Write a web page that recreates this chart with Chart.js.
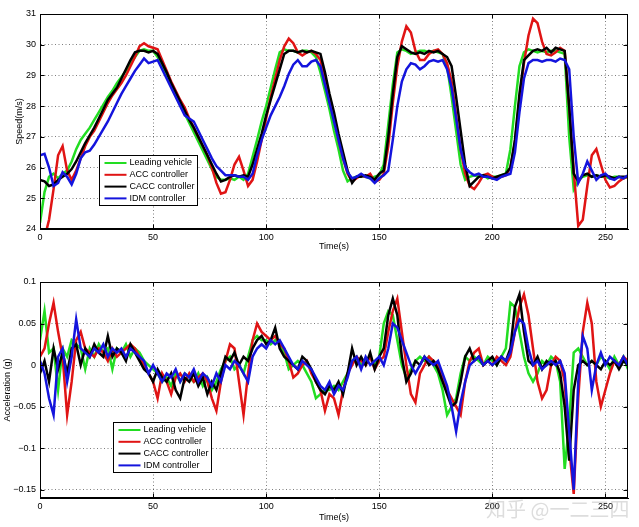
<!DOCTYPE html>
<html>
<head>
<meta charset="utf-8">
<script src="https://cdn.jsdelivr.net/npm/chart.js@4/dist/chart.umd.min.js"></script>
<style>
  body { margin: 0; background: #fff; width: 639px; height: 527px; position: relative; overflow: hidden; }
  canvas { display: block; }
  #mark { position: absolute; left: 486px; top: 494px; font: 20px "Noto Sans CJK SC", sans-serif; color: rgba(170, 170, 170, 0.4); white-space: nowrap; }
</style>
</head>
<body>
<canvas id="speedChart" width="639" height="262"></canvas>
<canvas id="accChart" width="639" height="265"></canvas>
<div id="mark">知乎 @一二三四</div>
<script>
// time axis, one sample every 2 s
const timeSec = [
  0, 2, 4, 6, 8, 10, 12, 14, 16, 18,
  20, 22, 24, 26, 28, 30, 32, 34, 36, 38,
  40, 42, 44, 46, 48, 50, 52, 54, 56, 58,
  60, 62, 64, 66, 68, 70, 72, 74, 76, 78,
  80, 82, 84, 86, 88, 90, 92, 94, 96, 98,
  100, 102, 104, 106, 108, 110, 112, 114, 116, 118,
  120, 122, 124, 126, 128, 130, 132, 134, 136, 138,
  140, 142, 144, 146, 148, 150, 152, 154, 156, 158,
  160, 162, 164, 166, 168, 170, 172, 174, 176, 178,
  180, 182, 184, 186, 188, 190, 192, 194, 196, 198,
  200, 202, 204, 206, 208, 210, 212, 214, 216, 218,
  220, 222, 224, 226, 228, 230, 232, 234, 236, 238,
  240, 242, 244, 246, 248, 250, 252, 254, 256, 258,
  260
];

// speed (m/s)
const speedLeading = [
  24.2, 25.2, 25.7, 25.8, 25.65, 25.8, 25.9, 26.2, 26.6, 26.9,
  27.1, 27.3, 27.55, 27.8, 28.05, 28.3, 28.5, 28.75, 28.95, 29.15,
  29.4, 29.6, 29.8, 29.85, 29.8, 29.8, 29.6, 29.3, 29.0, 28.65,
  28.35, 28.05, 27.75, 27.45, 27.15, 26.85, 26.55, 26.25, 25.95, 25.7,
  25.6, 25.6, 25.65, 25.6, 25.7, 25.6, 25.8, 26.35, 26.9, 27.5,
  28.0, 28.6, 29.2, 29.75, 29.85, 29.8, 29.8, 29.75, 29.8, 29.8,
  29.75, 29.6, 29.1, 28.5, 27.9, 27.2, 26.6, 25.9, 25.55, 25.65,
  25.7, 25.75, 25.7, 25.65, 25.7, 25.75, 26.1, 27.4, 28.7, 29.75,
  29.85, 29.8, 29.7, 29.75, 29.8, 29.8, 29.75, 29.8, 29.75, 29.7,
  29.3, 28.3, 27.2, 26.1, 25.6, 25.7, 25.75, 25.7, 25.75, 25.65,
  25.7, 25.7, 25.75, 25.8, 26.6, 28.0, 29.3, 29.75, 29.85, 29.8,
  29.75, 29.8, 29.75, 29.8, 29.8, 29.75, 29.7, 27.0, 25.3, 25.6,
  25.7, 25.75, 25.7, 25.75, 25.7, 25.7, 25.65, 25.7, 25.7, 25.65,
  25.7
];
const speedAcc = [
  23.4, 23.7, 24.3, 25.3, 26.4, 26.7, 25.9, 25.6, 25.9, 26.3,
  26.7, 27.0, 27.2, 27.5, 27.8, 28.1, 28.35, 28.55, 28.75, 29.0,
  29.3, 29.6, 29.95, 30.05, 29.95, 29.9, 29.85, 29.5, 29.15, 28.8,
  28.5, 28.2, 27.95, 27.6, 27.3, 27.0, 26.7, 26.4, 26.0, 25.5,
  25.15, 25.2, 25.6, 26.1, 26.35, 25.9, 25.4, 25.6, 26.2, 26.9,
  27.6, 28.3, 28.9, 29.5, 29.95, 30.2, 30.05, 29.75, 29.65, 29.75,
  29.8, 29.7, 29.5, 28.9, 28.3, 27.6, 26.9, 26.3, 25.8, 25.55,
  25.65, 25.75, 25.7, 25.8, 25.55, 25.6, 25.8, 26.7, 28.1, 29.3,
  30.1, 30.6, 30.4, 29.8, 29.5, 29.5, 29.7, 29.8, 29.85, 29.7,
  29.4, 28.8, 27.7, 26.6, 25.8, 25.4, 25.3, 25.5, 25.75, 25.8,
  25.7, 25.65, 25.7, 25.75, 26.0, 26.8, 28.2, 29.4, 30.3, 30.85,
  30.7, 30.1, 29.7, 29.65, 29.75, 29.9, 29.8, 28.0, 25.9, 24.1,
  24.3, 25.4, 26.4, 26.6, 26.1, 25.6, 25.35, 25.4, 25.55, 25.65,
  25.7
];
const speedCacc = [
  25.6, 25.55, 25.4, 25.45, 25.6, 25.7, 25.8, 25.95, 26.2, 26.5,
  26.8, 27.05, 27.3, 27.6, 27.9, 28.2, 28.4, 28.6, 28.9, 29.2,
  29.5, 29.75, 29.8, 29.8, 29.75, 29.8, 29.7, 29.4, 29.1, 28.75,
  28.45, 28.15, 27.85, 27.55, 27.3, 27.0, 26.7, 26.4, 26.1, 25.8,
  25.55, 25.6, 25.7, 25.75, 25.7, 25.75, 25.7, 26.1, 26.6, 27.1,
  27.7, 28.2, 28.7, 29.2, 29.7, 29.8, 29.8, 29.75, 29.8, 29.75,
  29.8, 29.75, 29.7, 29.1, 28.4, 27.8, 27.1, 26.5, 25.9, 25.5,
  25.7, 25.7, 25.75, 25.7, 25.6, 25.8, 25.9, 27.0, 28.4, 29.6,
  29.95, 29.85, 29.75, 29.7, 29.75, 29.7, 29.8, 29.75, 29.8, 29.7,
  29.6, 29.3, 28.3, 27.2, 26.1, 25.4, 25.55, 25.7, 25.75, 25.7,
  25.65, 25.7, 25.75, 25.8, 26.0, 26.9, 28.4, 29.5, 29.65, 29.8,
  29.85, 29.8, 29.9, 29.75, 29.9, 29.85, 29.8, 28.0, 25.8, 25.55,
  25.75, 25.8, 25.7, 25.75, 25.7, 25.75, 25.7, 25.65, 25.7, 25.7,
  25.7
];
const speedIdm = [
  26.4, 26.45, 26.0, 25.4, 25.5, 25.85, 25.7, 25.45, 25.8, 26.3,
  26.5, 26.55, 26.75, 27.0, 27.25, 27.5, 27.8, 28.1, 28.4, 28.65,
  28.9, 29.15, 29.35, 29.55, 29.4, 29.45, 29.5, 29.2, 28.9, 28.6,
  28.3, 28.0, 27.7, 27.6, 27.5, 27.2, 26.9, 26.6, 26.3, 26.05,
  25.9, 25.75, 25.75, 25.75, 25.7, 25.7, 25.6, 25.8, 26.4, 26.9,
  27.3, 27.7, 28.0, 28.3, 28.65, 29.05, 29.35, 29.5, 29.3, 29.3,
  29.45, 29.5, 29.3, 28.7, 28.1, 27.5, 26.9, 26.3, 25.85, 25.65,
  25.7, 25.8, 25.7, 25.65, 25.5, 25.65, 25.75, 25.9, 26.9, 28.0,
  28.8, 29.2, 29.4, 29.35, 29.2, 29.3, 29.45, 29.5, 29.45, 29.5,
  29.2, 28.6, 27.6, 26.6, 26.0, 25.85, 25.75, 25.8, 25.7, 25.7,
  25.65, 25.6, 25.7, 25.75, 25.8, 26.5, 27.8, 28.9, 29.4, 29.5,
  29.5, 29.45, 29.5, 29.5, 29.45, 29.55, 29.5, 29.2, 27.0, 25.5,
  25.8, 26.2, 25.9, 25.6, 25.75, 25.8, 25.65, 25.6, 25.7, 25.65,
  25.75
];

// acceleration (g)
const accLeading = [
  0.03, 0.065, 0.015, 0.02, -0.03, 0.02, 0.01, 0.03, 0.025, 0.02,
  -0.005, 0.02, 0.01, 0.025, 0.015, 0.02, -0.005, 0.02, 0.015, 0.025,
  0.01, 0.02, 0.015, 0.005, 0.0, -0.005, -0.01, -0.02, -0.015, -0.025,
  -0.01, -0.02, -0.01, -0.015, -0.02, -0.01, -0.025, -0.015, -0.03, -0.02,
  -0.005, 0.005, 0.01, -0.005, 0.0, -0.01, 0.01, 0.03, 0.035, 0.03,
  0.03, 0.025, 0.03, 0.025, 0.015, -0.005, 0.0, 0.005, 0.0, -0.01,
  -0.02, -0.04, -0.035, -0.03, -0.03, -0.025, -0.03, -0.02, -0.01, 0.005,
  0.01, 0.0, 0.005, 0.01, 0.0, 0.01, 0.05, 0.065, 0.06, 0.03,
  0.0, -0.015, -0.005, 0.005, 0.01, 0.005, 0.01, 0.0, -0.01, -0.03,
  -0.06, -0.05, -0.04, -0.01, 0.01, 0.005, 0.01, 0.005, 0.0, 0.01,
  0.005, 0.0, 0.01, 0.02, 0.075, 0.07, 0.04, 0.01, -0.01, -0.02,
  -0.01, 0.005, 0.0, 0.01, 0.005, -0.02, -0.125, -0.07, 0.015, 0.02,
  0.01, 0.0, 0.005, 0.0, 0.01, 0.005, -0.005, 0.01, 0.0, 0.01,
  -0.005
];
const accAcc = [
  0.01, 0.02, 0.05, 0.075, 0.04, 0.01, -0.06, -0.02, 0.03, 0.04,
  0.02, 0.015, 0.01, 0.02, 0.015, 0.005, 0.02, 0.01, 0.015, 0.02,
  0.025, 0.02, 0.01, 0.0, -0.01, -0.02, -0.04, -0.01, -0.02, -0.035,
  -0.015, -0.01, -0.02, -0.01, -0.02, -0.015, -0.01, -0.02, -0.04, -0.055,
  -0.02, 0.005, 0.025, 0.02, -0.02, -0.06, -0.01, 0.03, 0.05, 0.04,
  0.035, 0.03, 0.035, 0.025, 0.02, 0.005, -0.015, -0.01, 0.0, 0.005,
  -0.01, -0.02, -0.03, -0.055, -0.035, -0.04, -0.06, -0.03, -0.01, 0.0,
  0.01, 0.005, 0.0, 0.01, -0.005, 0.005, 0.01, 0.04, 0.065, 0.08,
  0.04, 0.0, -0.035, -0.045, -0.01, 0.0, 0.01, 0.005, 0.0, -0.015,
  -0.03, -0.04, -0.05, -0.06, -0.02, 0.005, 0.015, 0.02, 0.0, 0.005,
  0.0, 0.01, 0.005, 0.0, 0.01, 0.04, 0.07, 0.085, 0.06, 0.02,
  -0.02, -0.04, -0.03, 0.0, 0.01, 0.005, -0.02, -0.1, -0.155, -0.04,
  0.04, 0.075, 0.05, -0.02, -0.05, -0.03, -0.01, 0.005, 0.0, 0.01,
  0.005
];
const accCacc = [
  -0.01, 0.005, -0.02, 0.02, -0.005, 0.015, -0.01, 0.02, 0.025, 0.0,
  0.02, 0.01, 0.025, 0.015, 0.01, 0.035, 0.01, 0.02, 0.015, 0.005,
  0.025, 0.015, 0.005, -0.005, -0.01, -0.02, -0.005, -0.015, -0.02, -0.01,
  -0.03, -0.04, -0.015, -0.02, -0.01, -0.025, -0.015, -0.035, -0.02, -0.03,
  -0.01, 0.01, 0.005, 0.015, 0.0, 0.01, 0.005, 0.02, 0.03, 0.035,
  0.025, 0.03, 0.045, 0.02, 0.01, 0.005, 0.0, -0.005, 0.01, 0.005,
  -0.005, -0.02, -0.03, -0.035, -0.025, -0.03, -0.02, -0.035, -0.01, 0.02,
  0.0, 0.01, 0.0, 0.015, -0.005, 0.01, 0.02, 0.06, 0.08, 0.06,
  0.01, -0.02, -0.01, 0.005, 0.0, 0.01, 0.0, 0.005, -0.005, -0.02,
  -0.035, -0.05, -0.045, -0.02, 0.01, 0.02, 0.005, 0.01, 0.0, 0.005,
  0.01, 0.0, 0.01, 0.005, 0.02, 0.07, 0.085, 0.04, 0.005, 0.0,
  0.01, -0.005, 0.005, 0.0, 0.005, -0.01, -0.05, -0.115, -0.03, 0.0,
  0.005, 0.0, 0.005, 0.0, -0.005, 0.005, 0.0, 0.005, -0.005, 0.005,
  0.0
];
const accIdm = [
  0.005, -0.01, -0.04, -0.06, 0.01, 0.02, -0.02, 0.01, 0.055, 0.02,
  0.015, 0.01, 0.02, 0.015, 0.025, 0.01, 0.02, 0.015, 0.02, 0.01,
  0.02, 0.015, 0.01, 0.005, -0.01, 0.0, -0.01, -0.02, -0.01, -0.015,
  -0.005, -0.02, -0.01, -0.015, -0.005, -0.02, -0.01, -0.015, -0.025, -0.01,
  -0.02, 0.0, -0.005, 0.005, 0.0, -0.01, -0.02, 0.01, 0.02, 0.025,
  0.02, 0.03, 0.025, 0.03, 0.02, 0.01, 0.0, -0.005, 0.005, 0.0,
  -0.005, -0.015, -0.025, -0.03, -0.02, -0.035, -0.025, -0.03, -0.015, 0.005,
  0.01, -0.005, 0.01, 0.0, 0.005, 0.01, 0.0, 0.02, 0.05, 0.045,
  0.03, 0.015, 0.0, -0.01, 0.0, 0.01, 0.005, 0.0, 0.005, -0.01,
  -0.025, -0.05, -0.08, -0.045, -0.02, 0.0, 0.005, 0.01, 0.0, 0.005,
  0.0, 0.005, 0.01, 0.005, 0.015, 0.04, 0.055, 0.05, 0.02, 0.0,
  0.005, -0.005, 0.0, 0.005, 0.0, 0.005, -0.01, -0.08, -0.15, -0.02,
  0.035, 0.02, -0.03, 0.0, 0.015, 0.0, 0.01, 0.005, 0.0, 0.01,
  0.0
];

const timeTicks = [0, 50, 100, 150, 200, 250];
const speedTicks = [24, 25, 26, 27, 28, 29, 30, 31];
const accTicks = [-0.15, -0.1, -0.05, 0, 0.05, 0.1];

const seriesNames = ['Leading vehicle', 'ACC controller', 'CACC controller', 'IDM controller'];
const seriesColors = ['#22dd22', '#e01414', '#000000', '#1414dd'];

const FONT = '"Liberation Sans", Arial, sans-serif';

function toPoints(values) {
    return timeSec.map((t, i) => ({ x: t, y: values[i] }));
}

function makeDatasets(seriesList) {
    return seriesList.map((values, i) => ({
        label: seriesNames[i],
        data: toPoints(values),
        borderColor: seriesColors[i],
        backgroundColor: seriesColors[i],
        borderWidth: 2.5,
        pointRadius: 0,
        tension: 0,
        order: seriesList.length - i // later series on top, like the original plot
    }));
}

// box round the plot area plus inward tick marks on all four sides
const framePlugin = {
    id: 'frame',
    afterDatasetsDraw(chart) {
        const a = chart.chartArea;
        const ctx = chart.ctx;
        const l = Math.round(a.left) + 0.5, r = Math.round(a.right) - 0.5;
        const t = Math.round(a.top) + 0.5, b = Math.round(a.bottom) - 0.5;
        ctx.save();
        ctx.strokeStyle = '#000';
        ctx.lineWidth = 1;
        ctx.strokeRect(l, t, r - l, b - t);
        ctx.beginPath();
        chart.scales.x.ticks.forEach(tk => {
            const px = Math.round(chart.scales.x.getPixelForValue(tk.value)) + 0.5;
            ctx.moveTo(px, b); ctx.lineTo(px, b - 4);
            ctx.moveTo(px, t); ctx.lineTo(px, t + 4);
        });
        chart.scales.y.ticks.forEach(tk => {
            const py = Math.round(chart.scales.y.getPixelForValue(tk.value)) + 0.5;
            ctx.moveTo(l, py); ctx.lineTo(l + 4, py);
            ctx.moveTo(r, py); ctx.lineTo(r - 4, py);
        });
        ctx.stroke();
        ctx.restore();
    }
};

// legend box inside the plot area
const boxLegendPlugin = {
    id: 'boxLegend',
    afterDraw(chart, args, opts) {
        const a = chart.chartArea;
        const ctx = chart.ctx;
        const x = Math.round(a.left + opts.fx * (a.right - a.left)) + 0.5;
        const y = Math.round(a.top + opts.fy * (a.bottom - a.top)) + 0.5;
        const w = 98, h = 50, rowH = 11.8;
        ctx.save();
        ctx.fillStyle = '#fff';
        ctx.fillRect(x, y, w, h);
        ctx.strokeStyle = '#000';
        ctx.lineWidth = 1;
        ctx.strokeRect(x, y, w, h);
        ctx.font = '9px ' + FONT;
        ctx.textBaseline = 'middle';
        chart.data.datasets.forEach((ds, i) => {
            const cy = y + 7.5 + i * rowH;
            ctx.strokeStyle = ds.borderColor;
            ctx.lineWidth = 2;
            ctx.beginPath();
            ctx.moveTo(x + 5, cy);
            ctx.lineTo(x + 27, cy);
            ctx.stroke();
            ctx.fillStyle = '#000';
            ctx.fillText(ds.label, x + 30, cy);
        });
        ctx.restore();
    }
};

function makeConfig(datasets, opt) {
    return {
        type: 'line',
        data: { datasets: datasets },
        options: {
            responsive: false,
            animation: false,
            layout: { padding: { top: opt.padTop, right: 11, left: 0, bottom: 0 } },
            plugins: {
                legend: { display: false },
                tooltip: { enabled: false },
                boxLegend: { fx: opt.legendX, fy: opt.legendY }
            },
            scales: {
                x: {
                    type: 'linear',
                    min: 0,
                    max: 260,
                    afterBuildTicks: s => { s.ticks = timeTicks.map(v => ({ value: v })); },
                    afterFit: s => { s.height = opt.xHeight; },
                    grid: { color: 'rgba(0,0,0,0.5)', drawTicks: false },
                    border: { color: '#000', dash: [1, 2.5] },
                    ticks: { color: '#000', font: { family: FONT, size: 9 }, padding: opt.xTickPad, autoSkip: false, maxRotation: 0 },
                    title: { display: true, text: 'Time(s)', color: '#000', font: { family: FONT, size: 9 }, padding: { top: 0, bottom: opt.xTitlePad } }
                },
                y: {
                    min: opt.yMin,
                    max: opt.yMax,
                    afterBuildTicks: s => { s.ticks = opt.yTicks.map(v => ({ value: v })); },
                    afterFit: s => { s.width = 40; },
                    grid: { color: 'rgba(0,0,0,0.5)', drawTicks: false },
                    border: { color: '#000', dash: [1, 2.5] },
                    ticks: {
                        color: '#000',
                        font: { family: FONT, size: 9 },
                        padding: 4,
                        autoSkip: false,
                        callback: v => String(v).replace('-', '\u2212')
                    },
                    title: { display: true, text: opt.yTitle, color: '#000', font: { family: FONT, size: 9 }, padding: { top: opt.yTitlePad, bottom: 0 } }
                }
            }
        },
        plugins: [framePlugin, boxLegendPlugin]
    };
}

new Chart(document.getElementById('speedChart'), makeConfig(
    makeDatasets([speedLeading, speedAcc, speedCacc, speedIdm]),
    {
        padTop: 14, xHeight: 33, xTickPad: 3, xTitlePad: 10,
        yMin: 24, yMax: 31, yTicks: speedTicks, yTitle: 'Speed(m/s)', yTitlePad: 14,
        legendX: 0.101, legendY: 0.656
    }
));

new Chart(document.getElementById('accChart'), makeConfig(
    makeDatasets([accLeading, accAcc, accCacc, accIdm]),
    {
        padTop: 20, xHeight: 29, xTickPad: 3, xTitlePad: 4,
        yMin: -0.16, yMax: 0.1, yTicks: accTicks, yTitle: 'Acceleration (g)', yTitlePad: 2.5,
        legendX: 0.124, legendY: 0.65
    }
));
</script>
</body>
</html>
